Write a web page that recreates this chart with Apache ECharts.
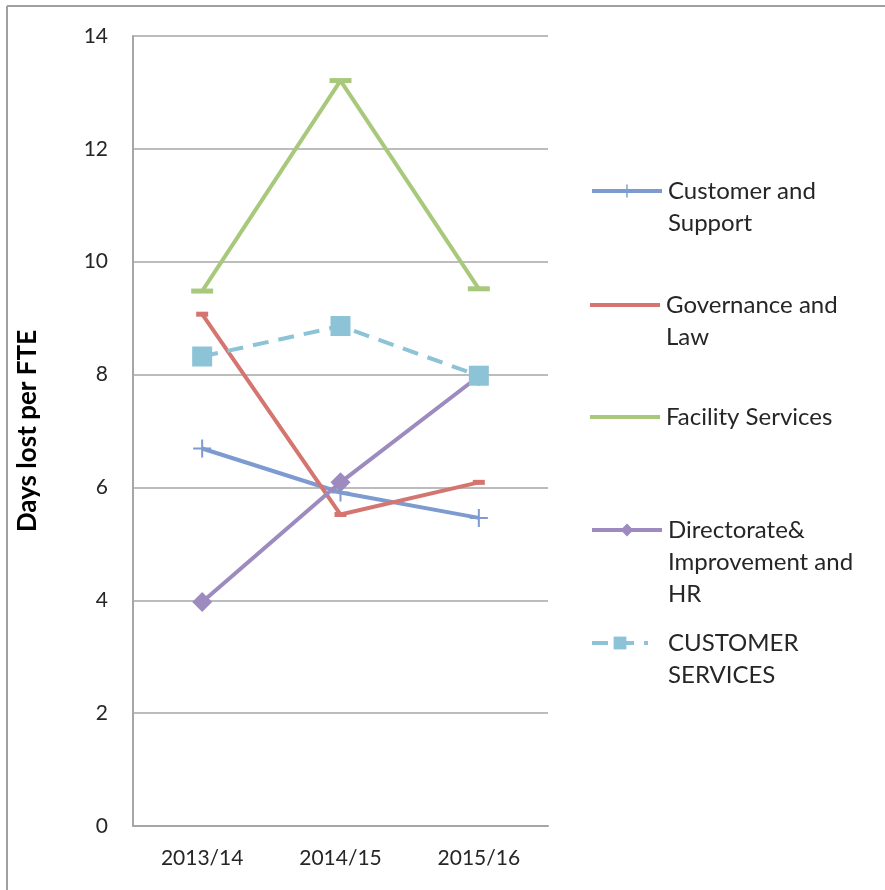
<!DOCTYPE html>
<html>
<head>
<meta charset="utf-8">
<script src="https://cdn.jsdelivr.net/npm/echarts@6/dist/echarts.min.js"></script>
<style>
  html, body { margin: 0; padding: 0; background: #ffffff; }
  #chart { width: 885px; height: 890px; }
</style>
</head>
<body>
<div id="chart"></div>
<script>
// Sickness absence: days lost per FTE by service area
const years = ['2013/14', '2014/15', '2015/16'];
const yTicks = [0, 2, 4, 6, 8, 10, 12, 14];

const customerSupport = [6.69, 5.91, 5.46];
const governanceLaw = [9.07, 5.52, 6.09];
const facilityServices = [9.48, 13.21, 9.52];
const directorateHR = [3.97, 6.09, 7.97];
const customerServices = [8.32, 8.86, 7.98];

const seriesNames = [
  'Customer and Support',
  'Governance and Law',
  'Facility Services',
  'Directorate& Improvement and HR',
  'CUSTOMER SERVICES'
];
const legendLabels = {
  'Customer and Support': ['Customer and', 'Support'],
  'Governance and Law': ['Governance and', 'Law'],
  'Facility Services': ['Facility Services'],
  'Directorate& Improvement and HR': ['Directorate&', 'Improvement and', 'HR'],
  'CUSTOMER SERVICES': ['CUSTOMER', 'SERVICES']
};

const FONT = 'Lato';
const TEXT = '#262626';
const colors = ['#7d9bd0', '#d4756f', '#a8c87b', '#9d8abf', '#8cc3d6'];
const plusPath = 'path://M0,8H18V10H0Z M8,0H10V18H8Z';

const chart = echarts.init(document.getElementById('chart'), null, { renderer: 'canvas' });

// Each legend entry sits beside the first line of its label: blank lines are
// prepended so that the first line is the vertical middle of the text block.
function labelText(name) {
  const lines = legendLabels[name];
  return '\n'.repeat(lines.length - 1) + lines.join('\n');
}

function legendAt(name, iconY, opts) {
  opts = opts || {};
  const lines = legendLabels[name].length;
  const blockH = 32 * (2 * lines - 1);
  const entry = { name: name, lineStyle: { width: 4 } };
  if (opts.icon) entry.icon = opts.icon;
  return {
    data: [entry],
    left: 590,
    top: iconY - blockH / 2,
    padding: 0,
    itemWidth: opts.itemWidth || 70,
    itemHeight: opts.itemHeight || 16,
    formatter: labelText,
    textStyle: {
      fontFamily: FONT,
      fontSize: 24,
      color: TEXT,
      lineHeight: 32,
      padding: [0, 0, 0, opts.textShift || 1]
    }
  };
}

chart.setOption({
  animation: false,
  backgroundColor: '#ffffff',
  color: colors,
  grid: { left: 133, right: 337, top: 36, bottom: 64 },
  xAxis: {
    type: 'category',
    data: years,
    boundaryGap: true,
    axisLine: { show: true, lineStyle: { color: '#a6a6a6', width: 2 } },
    axisTick: { show: false },
    axisLabel: { fontFamily: FONT, fontSize: 21, color: TEXT, margin: 22 }
  },
  yAxis: {
    type: 'value',
    min: yTicks[0],
    max: yTicks[yTicks.length - 1],
    interval: 2,
    name: 'Days lost per FTE',
    nameLocation: 'middle',
    nameGap: 92,
    nameRotate: 90,
    nameTextStyle: { fontFamily: FONT, fontSize: 26, fontWeight: 'bold', color: '#000000' },
    axisLine: { show: true, lineStyle: { color: '#a6a6a6', width: 2 } },
    axisTick: { show: false },
    axisLabel: { fontFamily: FONT, fontSize: 21, color: TEXT, margin: 25 },
    splitLine: { show: true, lineStyle: { color: '#a6a6a6', width: 1.5 } }
  },
  legend: [
    legendAt(seriesNames[0], 191),
    legendAt(seriesNames[1], 305, { icon: 'rect', itemHeight: 4 }),
    legendAt(seriesNames[2], 417, { icon: 'rect', itemHeight: 4 }),
    legendAt(seriesNames[3], 530),
    legendAt(seriesNames[4], 643, { itemWidth: 56, textShift: 15 })
  ],
  graphic: [
    { type: 'line', shape: { x1: 7, y1: 6, x2: 885, y2: 6 }, style: { stroke: '#a0a0a0', lineWidth: 2 } },
    { type: 'line', shape: { x1: 7, y1: 6, x2: 7, y2: 890 }, style: { stroke: '#a0a0a0', lineWidth: 2 } }
  ],
  series: [
    {
      name: seriesNames[0], type: 'line', data: customerSupport,
      symbol: plusPath, symbolSize: 18,
      lineStyle: { width: 4, color: colors[0] },
      itemStyle: { color: colors[0] }
    },
    {
      name: seriesNames[1], type: 'line', data: governanceLaw,
      symbol: 'rect', symbolSize: [12, 5],
      lineStyle: { width: 4, color: colors[1] },
      itemStyle: { color: colors[1] }
    },
    {
      name: seriesNames[2], type: 'line', data: facilityServices,
      symbol: 'rect', symbolSize: [22, 5],
      lineStyle: { width: 4, color: colors[2] },
      itemStyle: { color: colors[2] }
    },
    {
      name: seriesNames[3], type: 'line', data: directorateHR,
      symbol: 'diamond', symbolSize: 20,
      lineStyle: { width: 4, color: colors[3] },
      itemStyle: { color: colors[3] }
    },
    {
      name: seriesNames[4], type: 'line', data: customerServices,
      symbol: 'rect', symbolSize: 20,
      lineStyle: { width: 4, color: colors[4], type: [16, 10] },
      itemStyle: { color: colors[4] }
    }
  ]
});
</script>
</body>
</html>
